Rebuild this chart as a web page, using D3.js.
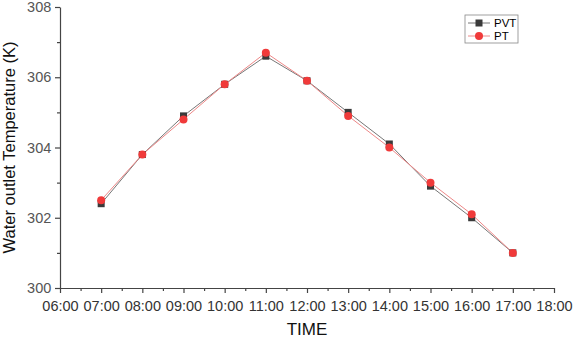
<!DOCTYPE html>
<html>
<head>
<meta charset="utf-8">
<script src="https://cdn.jsdelivr.net/npm/d3@7"></script>
<style>
  body { margin: 0; background: #fff; }
  svg { font-family: "Liberation Sans", Arial, sans-serif; }
</style>
</head>
<body>
<svg id="chart"></svg>
<script>
const width = 573;
const height = 338;

// hours of the day (07:00 .. 17:00)
const hours = [7, 8, 9, 10, 11, 12, 13, 14, 15, 16, 17];
const pvt = [302.4, 303.8, 304.9, 305.8, 306.6, 305.9, 305.0, 304.1, 302.9, 302.0, 301.0];
const pt = [302.5, 303.8, 304.8, 305.8, 306.7, 305.9, 304.9, 304.0, 303.0, 302.1, 301.0];
const xTicks = [6, 7, 8, 9, 10, 11, 12, 13, 14, 15, 16, 17, 18];
const yTicks = [300, 302, 304, 306, 308];

const margin = { top: 7, right: 19, bottom: 50, left: 60 };

const svg = d3.select("#chart")
    .attr("width", width)
    .attr("height", height);

const x = d3.scaleLinear()
    .domain([6, 18])
    .range([margin.left, width - margin.right]);

const y = d3.scaleLinear()
    .domain([300, 308])
    .range([height - margin.bottom, margin.top]);

const axisColor = "#444";
const fmt = h => String(h).padStart(2, "0") + ":00";

// minor ticks
const xMinor = d3.range(6.5, 18, 1);
const yMinor = d3.range(301, 308, 2);

const xAxis = svg.append("g")
    .attr("transform", `translate(0, ${height - margin.bottom})`)
    .call(d3.axisBottom(x).tickValues(xTicks).tickFormat(fmt).tickSize(5).tickSizeOuter(0));

svg.append("g")
    .attr("transform", `translate(0, ${height - margin.bottom})`)
    .call(d3.axisBottom(x).tickValues(xMinor).tickFormat("").tickSize(3).tickSizeOuter(0))
    .select(".domain").remove();

const yAxis = svg.append("g")
    .attr("transform", `translate(${margin.left}, 0)`)
    .call(d3.axisLeft(y).tickValues(yTicks).tickSize(5).tickSizeOuter(0));

svg.append("g")
    .attr("transform", `translate(${margin.left}, 0)`)
    .call(d3.axisLeft(y).tickValues(yMinor).tickFormat("").tickSize(3).tickSizeOuter(0))
    .select(".domain").remove();

svg.selectAll(".domain, .tick line")
    .attr("stroke", axisColor)
    .attr("stroke-width", 1.2);

xAxis.selectAll("text")
    .style("font-size", "14.5px")
    .attr("fill", "#333")
    .attr("dy", "1em");

yAxis.selectAll("text")
    .style("font-size", "14.5px")
    .attr("fill", "#555")
    .attr("dx", "-0.05em");

// axis titles
svg.append("text")
    .attr("x", (margin.left + width - margin.right) / 2)
    .attr("y", 335)
    .attr("text-anchor", "middle")
    .style("font-size", "17px")
    .attr("fill", "#111")
    .text("TIME");

svg.append("text")
    .attr("transform", `translate(15, ${(margin.top + height - margin.bottom) / 2}) rotate(-90)`)
    .attr("text-anchor", "middle")
    .style("font-size", "16.5px")
    .attr("fill", "#111")
    .text("Water outlet Temperature (K)");

const line = d3.line()
    .x(d => x(d[0]))
    .y(d => y(d[1]));

const pvtData = hours.map((h, i) => [h, pvt[i]]);
const ptData = hours.map((h, i) => [h, pt[i]]);

svg.append("path")
    .datum(pvtData)
    .attr("d", line)
    .attr("fill", "none")
    .attr("stroke", "#777")
    .attr("stroke-width", 1);

svg.append("path")
    .datum(ptData)
    .attr("d", line)
    .attr("fill", "none")
    .attr("stroke", "#e88")
    .attr("stroke-width", 1);

const sq = 7;
svg.selectAll(".pvt")
    .data(pvtData)
    .enter()
    .append("rect")
    .attr("class", "pvt")
    .attr("x", d => x(d[0]) - sq / 2)
    .attr("y", d => y(d[1]) - sq / 2)
    .attr("width", sq)
    .attr("height", sq)
    .attr("fill", "#3a3a3a");

svg.selectAll(".pt")
    .data(ptData)
    .enter()
    .append("circle")
    .attr("class", "pt")
    .attr("cx", d => x(d[0]))
    .attr("cy", d => y(d[1]))
    .attr("r", 4)
    .attr("fill", "#f03a3a");

// legend
const legend = svg.append("g")
    .attr("transform", "translate(465, 15)");

legend.append("rect")
    .attr("width", 53)
    .attr("height", 28)
    .attr("fill", "#fff")
    .attr("stroke", "#888")
    .attr("stroke-width", 0.8);

legend.append("line")
    .attr("x1", 3).attr("x2", 25).attr("y1", 8).attr("y2", 8)
    .attr("stroke", "#777");
legend.append("rect")
    .attr("x", 14 - sq / 2).attr("y", 8 - sq / 2)
    .attr("width", sq).attr("height", sq)
    .attr("fill", "#3a3a3a");
legend.append("text")
    .attr("x", 29).attr("y", 12)
    .style("font-size", "11.5px")
    .text("PVT");

legend.append("line")
    .attr("x1", 3).attr("x2", 25).attr("y1", 21).attr("y2", 21)
    .attr("stroke", "#e88");
legend.append("circle")
    .attr("cx", 14).attr("cy", 21)
    .attr("r", 4)
    .attr("fill", "#f03a3a");
legend.append("text")
    .attr("x", 29).attr("y", 25)
    .style("font-size", "11.5px")
    .text("PT");
</script>
</body>
</html>
